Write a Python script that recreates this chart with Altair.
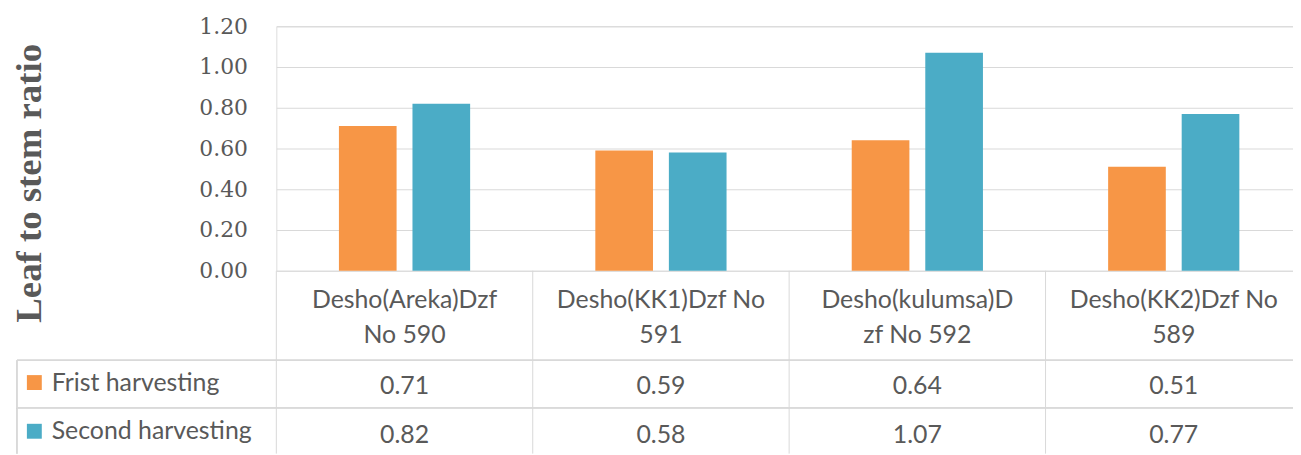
import altair as alt
import pandas as pd

# ---- data ----
categories = ["Desho(Areka)Dzf No 590", "Desho(KK1)Dzf No 591",
              "Desho(kulumsa)Dzf No 592", "Desho(KK2)Dzf No 589"]
header_line1 = ["Desho(Areka)Dzf", "Desho(KK1)Dzf No", "Desho(kulumsa)D", "Desho(KK2)Dzf No"]
header_line2 = ["No 590", "591", "zf No 592", "589"]
series = ["Frist harvesting", "Second harvesting"]
first_harvest = [0.71, 0.59, 0.64, 0.51]
second_harvest = [0.82, 0.58, 1.07, 0.77]
colors = ["#F79646", "#4BACC6"]
y_ticks = [0.0, 0.2, 0.4, 0.6, 0.8, 1.0, 1.2]

rows = []
for i, c in enumerate(categories):
    rows.append({"cat": c, "series": series[0], "value": first_harvest[i]})
    rows.append({"cat": c, "series": series[1], "value": second_harvest[i]})
df = pd.DataFrame(rows)
hdr = pd.DataFrame({"cat": categories, "l1": header_line1, "l2": header_line2})
leg = pd.DataFrame({"series": series})

# ---- styling ----
GRID = "#d9d9d9"
TXT = "#595959"
TFONT = "Lato"
TSIZE = 25

xscale = alt.Scale(domain=categories, paddingInner=0, paddingOuter=0)
cscale = alt.Scale(domain=series, range=colors)

X = alt.X("cat:N", sort=categories, scale=xscale, axis=None)

bars = alt.Chart(df).mark_bar().encode(
    x=X,
    xOffset=alt.XOffset("series:N", sort=series,
                        scale=alt.Scale(domain=series, paddingInner=0.216, paddingOuter=0.851)),
    y=alt.Y("value:Q",
            scale=alt.Scale(domain=[0, 1.2], nice=False),
            axis=alt.Axis(values=y_ticks, format=".2f", grid=True, gridColor=GRID,
                          gridWidth=1, domain=False, ticks=False, labelPadding=29,
                          labelFont="DejaVu Serif", labelFontSize=22, labelColor=TXT,
                          title="Leaf to stem ratio", titleFont="Liberation Serif",
                          titleFontWeight="bold", titleFontSize=37, titleColor=TXT,
                          titleAngle=270, titleX=-237, titleY=157.5,
                          titleAlign="center", titleBaseline="alphabetic")),
    color=alt.Color("series:N", scale=cscale, legend=None),
)

# table vertical borders (band starts)
vlines = alt.Chart(hdr).mark_rule(color=GRID, strokeWidth=1).encode(
    x=alt.X("cat:N", sort=categories, scale=xscale, axis=None, bandPosition=0),
    y=alt.value(246), y2=alt.value(430),
)
left_border = alt.Chart(hdr).mark_rule(color=GRID, strokeWidth=1).encode(
    x=alt.value(-261), y=alt.value(336), y2=alt.value(430))
hline1 = alt.Chart(hdr).mark_rule(color=GRID, strokeWidth=1).encode(
    x=alt.value(-261), x2=alt.value(1040), y=alt.value(336))
hline2 = alt.Chart(hdr).mark_rule(color=GRID, strokeWidth=1).encode(
    x=alt.value(-261), x2=alt.value(1040), y=alt.value(384))

txt = dict(font=TFONT, fontSize=TSIZE, color=TXT, baseline="middle")

head1 = alt.Chart(hdr).mark_text(align="center", **txt).encode(
    x=X, y=alt.value(275.5), text="l1:N")
head2 = alt.Chart(hdr).mark_text(align="center", **txt).encode(
    x=X, y=alt.value(310.5), text="l2:N")

val1 = alt.Chart(df).transform_filter(alt.datum.series == series[0]).mark_text(
    align="center", **txt).encode(
    x=X, y=alt.value(362.5), text=alt.Text("value:Q", format=".2f"))
val2 = alt.Chart(df).transform_filter(alt.datum.series == series[1]).mark_text(
    align="center", **txt).encode(
    x=X, y=alt.value(411.5), text=alt.Text("value:Q", format=".2f"))

sq1 = alt.Chart(leg).transform_filter(alt.datum.series == series[0]).mark_rect().encode(
    x=alt.value(-251), x2=alt.value(-236), y=alt.value(351), y2=alt.value(366),
    color=alt.Color("series:N", scale=cscale, legend=None))
sq2 = alt.Chart(leg).transform_filter(alt.datum.series == series[1]).mark_rect().encode(
    x=alt.value(-251), x2=alt.value(-236), y=alt.value(400), y2=alt.value(415),
    color=alt.Color("series:N", scale=cscale, legend=None))

lt1 = alt.Chart(leg).transform_filter(alt.datum.series == series[0]).mark_text(
    align="left", **txt).encode(x=alt.value(-226), y=alt.value(359), text="series:N")
lt2 = alt.Chart(leg).transform_filter(alt.datum.series == series[1]).mark_text(
    align="left", **txt).encode(x=alt.value(-226), y=alt.value(407.5), text="series:N")

chart = alt.layer(
    bars, vlines, left_border, hline1, hline2, head1, head2, val1, val2, sq1, sq2, lt1, lt2
).properties(
    width=1032, height=246,
    autosize=alt.AutoSizeParams(type="none"),
    padding={"left": 270, "top": 17, "right": -9, "bottom": 184},
).configure_view(stroke=None).configure(background="white")

chart.save("out.html", embed_options={"renderer": "svg", "actions": False})
